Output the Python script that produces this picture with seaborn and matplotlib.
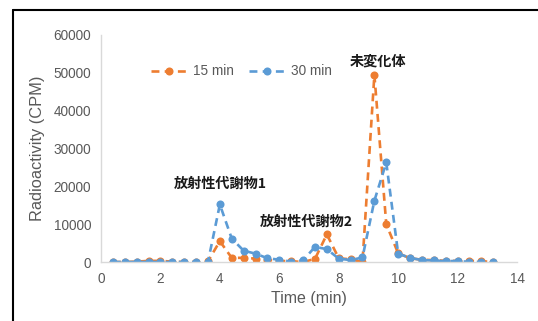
"""Radioactivity chromatogram: 15 min vs 30 min samples."""

import matplotlib
matplotlib.use("Agg")
import matplotlib.pyplot as plt
from matplotlib.lines import Line2D
import pandas as pd
import seaborn as sns

TIME = [0.4, 0.8, 1.2, 1.6, 2.0, 2.4, 2.8, 3.2, 3.6, 4.0, 4.4, 4.8, 5.2, 5.6,
        6.0, 6.4, 6.8, 7.2, 7.6, 8.0, 8.4, 8.8, 9.2, 9.6, 10.0, 10.4, 10.8,
        11.2, 11.6, 12.0, 12.4, 12.8, 13.2]
CPM_15 = [0, 0, 100, 300, 300, 100, 0, 0, 200, 5500, 1100, 1100, 900, 600,
          300, 200, 0, 800, 7300, 1000, 700, 0, 49500, 10000, 2300, 1000, 600,
          500, 300, 300, 300, 200, 0]
CPM_30 = [0, 0, 0, 0, 0, 0, 0, 0, 0, 15200, 6200, 3000, 2200, 1000,
          600, 100, 400, 4000, 3400, 900, 500, 1200, 16200, 26300, 2200, 1100, 500,
          400, 200, 300, 0, 0, 0]
SERIES = ["15 min", "30 min"]
COLORS = {"15 min": "#ED7D31", "30 min": "#5B9BD5"}
PEAKS = [("未変化体", 9.33, 52900), ("放射性代謝物1", 4.0, 20600),
         ("放射性代謝物2", 6.9, 10700)]

df = pd.concat([
    pd.DataFrame({"time": TIME, "cpm": CPM_15, "series": SERIES[0]}),
    pd.DataFrame({"time": TIME, "cpm": CPM_30, "series": SERIES[1]}),
])

sns.set_style("white")
plt.rcParams["font.family"] = ["Liberation Sans", "Noto Sans CJK JP", "DejaVu Sans"]

fig = plt.figure(figsize=(5.38, 3.21), dpi=100)
ax = fig.add_axes([0.1877, 0.1838, 0.7733, 0.7072])

for name in SERIES:
    sub = df[df["series"] == name]
    sns.lineplot(data=sub, x="time", y="cpm", ax=ax, color=COLORS[name],
                 linestyle="--", linewidth=1.9, marker="o", markersize=5.8,
                 markeredgewidth=0, label=name, dashes=False)
    ax.lines[-1].set_linestyle((0, (3, 2)))

for text, x, y in PEAKS:
    ax.text(x, y, text, ha="center", va="center", fontsize=10.2, fontweight="bold",
            color="#1a1a1a", family=["Noto Sans CJK JP", "DejaVu Sans"])

ax.set_xlim(0, 14)
ax.set_ylim(0, 60000)
ax.set_xticks(range(0, 15, 2))
ax.set_yticks(range(0, 60001, 10000))
ax.tick_params(length=0, labelsize=9.8, colors="#595959")
ax.tick_params(axis="x", pad=7)
ax.tick_params(axis="y", pad=7)
ax.set_xlabel("Time (min)", fontsize=11.5, color="#595959", labelpad=4)
ax.set_ylabel("Radioactivity (CPM)", fontsize=11.8, color="#595959", labelpad=6)
for side in ["top", "right"]:
    ax.spines[side].set_visible(False)
for side in ["left", "bottom"]:
    ax.spines[side].set_color("#D9D9D9")
    ax.spines[side].set_linewidth(1.0)

leg = ax.legend(loc="center", bbox_to_anchor=(0.338, 0.84), ncol=2, frameon=False,
                fontsize=9.8, handlelength=2.7, columnspacing=1.1, handletextpad=0.4)
for t in leg.get_texts():
    t.set_color("#595959")

# outer frame (top and left edges only visible in the crop)
fig.add_artist(Line2D([13 / 538, 1.0], [1 - 10 / 321] * 2, color="black", lw=1.5))
fig.add_artist(Line2D([13 / 538] * 2, [0.0, 1 - 10 / 321], color="black", lw=1.5))

fig.savefig("out.png", dpi=100)
